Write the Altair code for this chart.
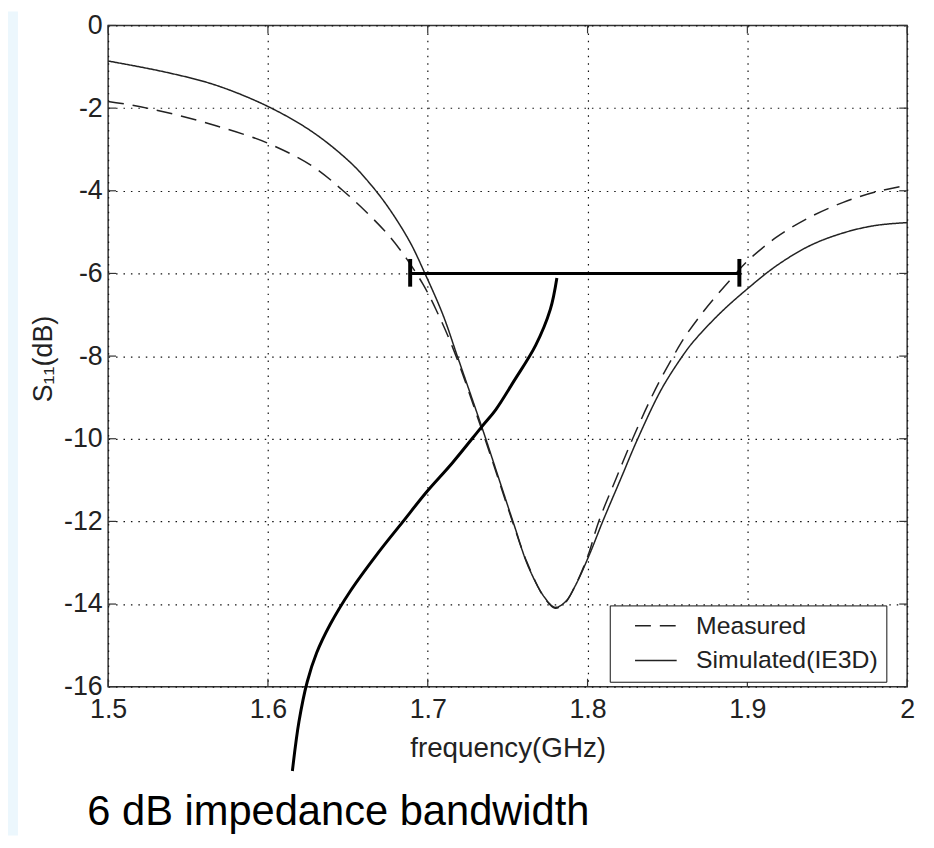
import altair as alt
import pandas as pd

# ---------------- data ----------------
series_names = ["Measured", "Simulated(IE3D)"]

freq_sim = [1.500, 1.536, 1.567, 1.600, 1.628, 1.652, 1.665, 1.676, 1.689, 1.698,
            1.7095, 1.7185, 1.735, 1.7425, 1.754, 1.763, 1.7735, 1.7797, 1.786,
            1.792, 1.801, 1.8095, 1.821, 1.8314, 1.846, 1.8585, 1.866, 1.883,
            1.8995, 1.918, 1.939, 1.960, 1.980, 2.000]
s11_sim = [-0.86, -1.13, -1.44, -1.96, -2.58, -3.33, -3.88, -4.44, -5.25, -5.98,
           -7.00, -8.00, -9.85, -10.73, -12.08, -13.10, -13.86, -14.08, -13.95,
           -13.58, -12.82, -12.00, -10.95, -10.00, -8.82, -8.05, -7.66, -6.96,
           -6.39, -5.82, -5.33, -5.02, -4.84, -4.77]

freq_meas = [1.500, 1.515, 1.536, 1.567, 1.600, 1.628, 1.6465, 1.663, 1.676, 1.6865,
             1.697, 1.705, 1.7165, 1.734, 1.7415, 1.753, 1.762, 1.773, 1.7797,
             1.786, 1.7915, 1.800, 1.807, 1.818, 1.828, 1.8425, 1.857, 1.8615,
             1.875, 1.8915, 1.8995, 1.918, 1.939, 1.960, 1.980, 2.000]
s11_meas = [-1.84, -1.93, -2.10, -2.42, -2.85, -3.41, -3.98, -4.57, -5.10, -5.63,
            -6.26, -6.86, -7.88, -9.80, -10.66, -12.00, -12.98, -13.85, -14.10,
            -13.97, -13.62, -12.86, -12.00, -10.95, -10.02, -8.80, -7.78, -7.50,
            -6.80, -6.06, -5.72, -5.13, -4.64, -4.28, -4.03, -3.87]

arrow_freq = [1.6153, 1.6194, 1.6246, 1.6305, 1.639, 1.6515, 1.668, 1.6846, 1.699,
              1.7155, 1.734, 1.7425, 1.754, 1.7675, 1.7767, 1.7808]
arrow_db = [-18.04, -16.85, -15.88, -15.18, -14.49, -13.69, -12.81, -12.00, -11.30,
            -10.58, -9.70, -9.30, -8.60, -7.74, -6.87, -6.11]

bw_low = [1.689]
bw_high = [1.895]
bw_level = [-6.0]
cap_top = [-5.65]
cap_bottom = [-6.32]

x_ticks = [1.5, 1.6, 1.7, 1.8, 1.9, 2.0]
y_ticks = [-16, -14, -12, -10, -8, -6, -4, -2, 0]

annotation_text = ["6 dB impedance bandwidth"]

# ---------------- chart ----------------
W, H = 806, 667
FONT = "Liberation Sans"
INK = "#222222"

curves = pd.DataFrame({
    "f": freq_meas + freq_sim,
    "db": s11_meas + s11_sim,
    "series": [series_names[0]] * len(freq_meas) + [series_names[1]] * len(freq_sim),
})
arrow = pd.DataFrame({"f": arrow_freq, "db": arrow_db})
bw = pd.DataFrame({"lo": bw_low, "hi": bw_high, "lvl": bw_level})
caps = pd.DataFrame({"f": bw_low + bw_high, "top": cap_top * 2, "bot": cap_bottom * 2})
xt = pd.DataFrame({"f": x_ticks})
yt = pd.DataFrame({"db": y_ticks})
txt = pd.DataFrame({"t": annotation_text})
strip = pd.DataFrame({"k": [0]})

xs = alt.Scale(domain=[1.5, 2.0], nice=False, zero=False)
ys = alt.Scale(domain=[-16, 0], nice=False, zero=False)

x_axis = alt.Axis(
    values=x_ticks, labelExpr="'' + datum.value", grid=True,
    gridDash=[1.5, 6], gridColor="#111111", gridWidth=1.2,
    ticks=False, tickSize=0, domain=False,
    labelFont=FONT, labelFontSize=27, labelColor=INK, labelPadding=10,
    labelFlush=False, labelOverlap=False,
    titleFont=FONT, titleFontSize=28, titleFontWeight="normal", titleColor=INK,
    titleX=403, titleY=70, titleBaseline="alphabetic", titleAlign="center",
)
y_axis = alt.Axis(
    values=y_ticks, labelExpr="'' + datum.value", grid=True,
    gridDash=[1.5, 6], gridColor="#111111", gridWidth=1.2,
    ticks=False, tickSize=0, domain=False,
    labelFont=FONT, labelFontSize=27, labelColor=INK, labelPadding=6,
    labelFlush=False, labelOverlap=False,
    titleFont=FONT, titleFontSize=27, titleFontWeight="normal", titleColor=INK,
    titleX=-57, titleY=336, titleAngle=270, titleBaseline="alphabetic", titleAlign="center",
)

X_TITLE = "frequency(GHz)"
Y_TITLE = "S\u2081\u2081(dB)"


def X(field):
    return alt.X(f"{field}:Q", scale=xs, axis=x_axis, title=X_TITLE)


def Y(field):
    return alt.Y(f"{field}:Q", scale=ys, axis=y_axis, title=Y_TITLE)


side_strip = alt.Chart(strip).mark_rect(color="#ecf7fd").encode(
    x=alt.value(-101), x2=alt.value(-91), y=alt.value(-14), y2=alt.value(H + 150))

tick_bottom = alt.Chart(xt).mark_rule(color="#333333", strokeWidth=1.2).encode(
    x=X("f"), y=alt.value(H), y2=alt.value(H - 8))
tick_top = alt.Chart(xt).mark_rule(color="#333333", strokeWidth=1.2).encode(
    x=X("f"), y=alt.value(0), y2=alt.value(8))
tick_left = alt.Chart(yt).mark_rule(color="#333333", strokeWidth=1.2).encode(
    y=Y("db"), x=alt.value(0), x2=alt.value(8))
tick_right = alt.Chart(yt).mark_rule(color="#333333", strokeWidth=1.2).encode(
    y=Y("db"), x=alt.value(W - 8), x2=alt.value(W))

lines = alt.Chart(curves).mark_line(strokeWidth=1.5, color=INK, interpolate="catmull-rom").encode(
    x=X("f"), y=Y("db"),
    strokeDash=alt.StrokeDash(
        "series:N",
        scale=alt.Scale(domain=series_names, range=[[16, 9], [1, 0]]),
        legend=alt.Legend(
            title=None, orient="none", legendX=506, legendY=585,
            strokeColor="#111111", fillColor="white", padding=8,
            labelFont=FONT, labelFontSize=25, labelColor=INK,
            symbolType="M-3,0H3", symbolSize=196, symbolStrokeWidth=1.5,
            symbolStrokeColor=INK, symbolOffset=26, labelOffset=28,
            rowPadding=9, labelLimit=400, labelExpr="datum.label + '   '",
        ),
    ),
)

arrow_line = alt.Chart(arrow).mark_line(strokeWidth=3, color="black", interpolate="catmull-rom").encode(
    x=X("f"), y=Y("db"))

bar = alt.Chart(bw).mark_rule(strokeWidth=3, color="black").encode(
    x=X("lo"), x2="hi", y=Y("lvl"))
cap_marks = alt.Chart(caps).mark_rule(strokeWidth=4, color="black").encode(
    x=X("f"), y=Y("top"), y2="bot")

label = alt.Chart(txt).mark_text(
    align="left", baseline="alphabetic", fontSize=42, font=FONT, color="black"
).encode(x=alt.value(-21), y=alt.value(806), text="t:N")

chart = alt.layer(
    side_strip, tick_bottom, tick_top, tick_left, tick_right,
    lines, arrow_line, bar, cap_marks, label,
).properties(
    width=W, height=H,
    autosize=alt.AutoSizeParams(type="none"),
    padding={"left": 101, "top": 14, "right": 19, "bottom": 150},
).configure_view(
    stroke="#333333", strokeWidth=1.5
)

chart.save("out.html", embed_options={"renderer": "svg", "actions": False})
